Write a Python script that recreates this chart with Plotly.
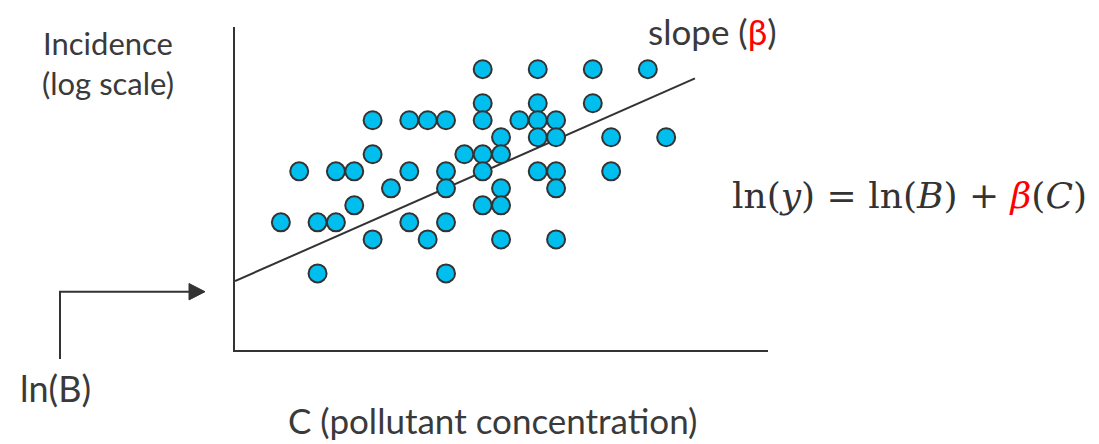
import plotly.graph_objects as go

# Pollutant concentration (C) and log incidence for each observed point
conc = [13.5, 16.5, 19.5, 22.5,
        13.5, 16.5, 19.5,
        7.5, 9.5, 10.5, 11.5, 13.5, 15.5, 16.5, 17.5,
        14.5, 16.5, 17.5, 20.5, 23.5,
        7.5, 12.5, 13.5, 14.5,
        3.5, 5.5, 6.5, 9.5, 11.5, 13.5, 16.5, 17.5, 20.5,
        8.5, 11.5, 14.5, 17.5,
        6.5, 13.5, 14.5,
        2.5, 4.5, 5.5, 9.5, 11.5,
        7.5, 10.5, 14.5, 17.5,
        4.5, 11.5]
log_incidence = [16.5] * 4 + [14.5] * 3 + [13.5] * 8 + [12.5] * 5 + [11.5] * 4 \
    + [10.5] * 9 + [9.5] * 4 + [8.5] * 3 + [7.5] * 5 + [6.5] * 4 + [4.5] * 2

# Fitted regression line: intercept ln(B) at C = 0, slope beta
fit_c = [0, 25.07]
fit_y = [4.05, 15.96]

x_max = 29.05
y_max = 18.98

# the page puts the figure 8px in from the window corner
OFF = 8
W, H = 1099 - OFF, 444 - OFF
# plot area, in window pixels
L, R, T, B = 235, 768, 27, 350


def px(x, y):
    # window pixel -> paper coords
    return (x - L) / (R - L), (B - y) / (B - T)


grey = '#3a3a3a'
ink = '#333333'

fig = go.Figure()

fig.add_trace(go.Scatter(
    x=fit_c, y=fit_y, mode='lines',
    line=dict(color=ink, width=2),
    hoverinfo='skip', showlegend=False,
))

fig.add_trace(go.Scatter(
    x=conc, y=log_incidence, mode='markers',
    marker=dict(size=18, color='#00BFEF', line=dict(color=ink, width=2)),
    showlegend=False,
))

# elbow arrow pointing at the intercept
x0, y0 = px(60, 359)
x1, y1 = px(60, 291.7)
x2, _ = px(189, 291.7)
fig.add_shape(type='path', xref='paper', yref='paper',
              path=f'M {x0},{y0} L {x1},{y1} L {x2},{y1}',
              line=dict(color=ink, width=2))
tx, ty = px(205, 291.7)
_, ya = px(0, 283.5)
_, yb = px(0, 299.9)
fig.add_shape(type='path', xref='paper', yref='paper',
              path=f'M {tx},{ty} L {x2},{ya} L {x2},{yb} Z',
              fillcolor=ink, line=dict(color=ink, width=1))

sp = '&nbsp;'
eq = (f"ln(<i>y</i>){sp}={sp}ln(<i>B</i>){sp}+{sp}"
      "<i><span style='color:red'>β</span></i>(<i>C</i>)")

annots = [
    (108, 63, 'Incidence<br>(log scale)', dict(family='Lato', size=31, color=grey)),
    (55, 388, 'ln(B)', dict(family='Lato', size=36, color=grey)),
    (492, 420, 'C (pollutant concentration)', dict(family='Lato', size=35, color=grey)),
    (712, 31, "slope (<span style='color:red'>β</span>)", dict(family='Lato', size=35, color=grey)),
    (909, 195, eq, dict(family='DejaVu Serif', size=36, color=ink)),
]
for ax_, ay_, txt, fnt in annots:
    xp, yp = px(ax_, ay_)
    fig.add_annotation(x=xp, y=yp, xref='paper', yref='paper', text=txt,
                       showarrow=False, font=fnt, xanchor='center', yanchor='middle',
                       align='center', borderpad=0)

fig.update_layout(
    width=W, height=H,
    margin=dict(l=L - OFF, r=W - (R - OFF), t=T - OFF, b=H - (B - OFF)),
    plot_bgcolor='white', paper_bgcolor='white',
    xaxis=dict(range=[0, x_max], showgrid=False, zeroline=False, showticklabels=False,
               showline=True, linecolor=ink, linewidth=2, ticks=''),
    yaxis=dict(range=[0, y_max], showgrid=False, zeroline=False, showticklabels=False,
               showline=True, linecolor=ink, linewidth=2, ticks=''),
)

fig.write_html('out.html')
